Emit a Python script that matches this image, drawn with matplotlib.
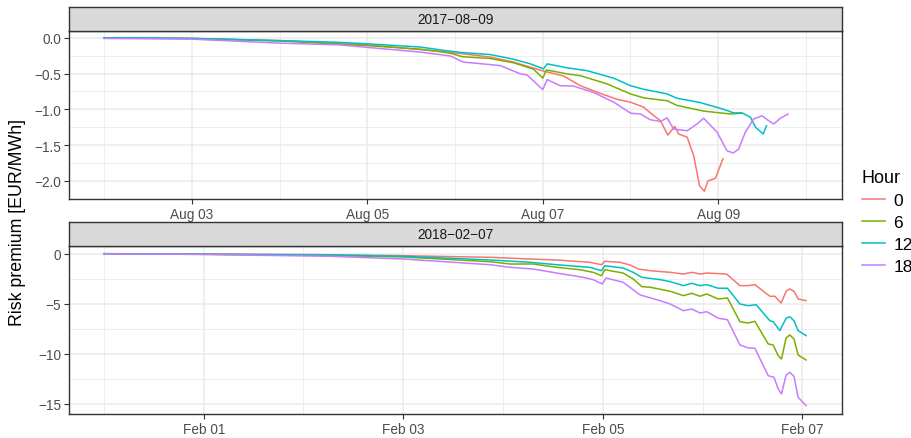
import numpy as np
import pandas as pd
import matplotlib
matplotlib.use("Agg")
import matplotlib.pyplot as plt
from matplotlib.lines import Line2D
import matplotlib.dates as mdates

plt.rcParams['font.family'] = ['Liberation Sans', 'DejaVu Sans']

hours = ['0', '6', '12', '18']
colors = ['#F8766D', '#7CAE00', '#00BFC4', '#C77CFF']

# Facet 2017-08-09 : time in hours after 2017-08-02 00:00
aug_start = '2017-08-02'
aug_t0 = [0, 24, 48, 72, 86.5, 97.4, 105.6, 112, 119.8, 125.7, 130.3, 134.8, 140.3, 144, 147.6, 149.9,
          152.2, 154.2, 156.1, 157.2, 159.5, 161.3, 162.9, 164.2, 165.2, 167.2, 169.3]
aug_v0 = [0, -0.01, -0.04, -0.10, -0.165, -0.22, -0.27, -0.34, -0.46, -0.535, -0.67, -0.76, -0.86, -0.90,
          -0.97, -1.07, -1.16, -1.36, -1.24, -1.345, -1.39, -1.65, -2.07, -2.145, -2.0, -1.965, -1.69]
aug_t6 = [0, 24, 48, 72, 86.5, 92, 95, 98, 105.6, 112, 117.5, 120, 121, 126.6, 130.3, 137.6, 144, 147.6,
          154, 156.7, 164, 171.3, 174.5]
aug_v6 = [0, -0.01, -0.045, -0.11, -0.16, -0.195, -0.22, -0.265, -0.29, -0.35, -0.44, -0.565, -0.45,
          -0.505, -0.53, -0.645, -0.785, -0.84, -0.88, -0.945, -1.025, -1.065, -1.055]
aug_t12 = [0, 24, 48, 64.6, 72, 86.5, 92, 97.4, 105.6, 112, 116.6, 120.2, 121.2, 126.6, 132.1, 139.4, 144,
           147.6, 154, 156.7, 163, 169.5, 172.2, 174.5, 176.8, 178.2, 180.3, 181.2]
aug_v12 = [0, -0.01, -0.04, -0.065, -0.085, -0.13, -0.17, -0.205, -0.235, -0.30, -0.365, -0.435, -0.365,
           -0.42, -0.46, -0.565, -0.67, -0.72, -0.785, -0.845, -0.905, -1.0, -1.05, -1.05, -1.11, -1.25,
           -1.345, -1.23]
aug_t18 = [0, 24, 48, 64.6, 72, 86.5, 94.7, 98.2, 105.6, 108.4, 113.9, 115.7, 120, 121.2, 124.8, 128.4,
           133.9, 139.4, 144.1, 146.7, 149.4, 152.2, 154, 155.8, 159.5, 162.2, 164, 167.7, 170.4, 172.1,
           173.6, 175.4, 177.7, 180, 181.4, 183.2, 185, 187.1]
aug_v18 = [-0.01, -0.02, -0.075, -0.1, -0.135, -0.2, -0.255, -0.34, -0.375, -0.39, -0.505, -0.52, -0.725,
           -0.585, -0.67, -0.675, -0.765, -0.90, -1.055, -1.065, -1.145, -1.17, -1.12, -1.275, -1.30,
           -1.205, -1.125, -1.32, -1.58, -1.61, -1.555, -1.32, -1.135, -1.09, -1.145, -1.205, -1.125, -1.065]

# Facet 2018-02-07 : time in hours after 2018-01-31 00:00
feb_start = '2018-01-31'
feb_t0 = [0, 24, 54.4, 72, 92.9, 102.5, 108.9, 116.9, 119.7, 120.5, 124.1, 126.6, 128.6, 131.4, 136.2,
          139.4, 141.4, 143.4, 145, 149.8, 153, 155, 156.6, 160.2, 161.4, 162.9, 164.2, 165, 166, 167, 168.9]
feb_v0 = [0, -0.03, -0.10, -0.20, -0.36, -0.53, -0.63, -0.86, -1.10, -0.76, -0.86, -1.13, -1.53, -1.70,
          -1.86, -2.03, -1.86, -2.03, -1.93, -2.03, -3.19, -3.19, -3.09, -4.25, -4.25, -4.92, -3.69, -3.52,
          -3.75, -4.52, -4.69]
feb_t6 = [0, 24, 54.4, 72, 92.9, 97.7, 103.3, 108.9, 114.5, 117.7, 119.7, 120.5, 124.9, 127.3, 129.4,
          131.4, 136.2, 139.4, 141.4, 143.4, 145, 147.8, 150, 153, 155, 156.6, 159.8, 161, 162.2, 163,
          164.1, 165, 166, 167, 168.9]
feb_v6 = [0, -0.06, -0.18, -0.33, -0.80, -1.03, -1.03, -1.36, -1.60, -1.86, -2.20, -1.60, -1.93, -2.52,
          -3.29, -3.35, -3.75, -4.19, -3.95, -4.25, -4.02, -4.52, -4.42, -6.79, -6.92, -6.75, -9.01, -9.11,
          -10.18, -10.51, -8.41, -8.11, -8.51, -10.11, -10.61]
feb_t12 = [0, 24, 54.4, 72, 92.9, 102.5, 108.9, 116.9, 119.7, 120.5, 124.9, 127.3, 129.4, 133.8, 136.2,
           139.4, 141.4, 143.4, 145, 147.8, 150, 153, 155, 156.9, 160.2, 161, 162.6, 164.1, 165, 166, 167,
           168.9]
feb_v12 = [0, -0.05, -0.13, -0.26, -0.63, -0.86, -1.10, -1.36, -1.70, -1.20, -1.43, -1.86, -2.36, -2.59,
           -2.79, -3.19, -2.95, -3.19, -3.09, -3.45, -3.45, -5.02, -5.19, -5.09, -6.69, -6.79, -7.68, -6.45,
           -6.29, -6.69, -7.68, -8.18]
feb_t18 = [0, 24, 54.4, 72, 92.9, 97.7, 103.3, 108.9, 115.3, 117.7, 119.9, 120.8, 124.9, 129, 133.8,
           136.2, 139.4, 141.4, 143.4, 145, 147.8, 150, 153, 155, 156.6, 159.8, 161.2, 162.2, 163, 164.1,
           165, 166, 167, 168.9]
feb_v18 = [0, -0.08, -0.26, -0.53, -1.10, -1.36, -1.53, -1.93, -2.36, -2.59, -3.02, -2.43, -2.85, -4.12,
           -4.69, -5.02, -5.69, -5.52, -5.92, -5.79, -6.45, -6.59, -9.11, -9.41, -9.44, -12.18, -12.34,
           -13.50, -14.00, -12.11, -11.84, -12.24, -14.33, -15.17]

aug_major = ['2017-08-03', '2017-08-05', '2017-08-07', '2017-08-09']
aug_minor = ['2017-08-02', '2017-08-04', '2017-08-06', '2017-08-08', '2017-08-10']
feb_major = ['2018-02-01', '2018-02-03', '2018-02-05', '2018-02-07']
feb_minor = ['2018-01-31', '2018-02-02', '2018-02-04', '2018-02-06']

GRID = '#EBEBEB'
DARK = '#333333'
TXT = '#4D4D4D'


def to_time(start, h):
    return pd.Timestamp(start) + pd.to_timedelta(np.array(h), unit='h')


def panel(fig, rect, strip_h, label, start, series, xl, yl, major, minor, yt, ym, ytl):
    ax = fig.add_axes(rect)
    for (t, v), c in zip(series, colors):
        ax.plot(to_time(start, t), v, color=c, lw=1.1, solid_joinstyle='round')
    ax.set_xlim(to_time(start, xl[0]), to_time(start, xl[1]))
    ax.set_ylim(yl)
    ax.set_xticks(pd.to_datetime(major))
    ax.set_xticks(pd.to_datetime(minor), minor=True)
    ax.xaxis.set_major_formatter(mdates.DateFormatter('%b %d'))
    ax.set_yticks(yt)
    ax.set_yticklabels(ytl)
    ax.set_yticks(ym, minor=True)
    ax.grid(which='major', color=GRID, lw=1.1)
    ax.grid(which='minor', color=GRID, lw=0.6)
    ax.set_axisbelow(True)
    ax.tick_params(which='major', length=3.5, width=0.8, color=DARK, labelcolor=TXT,
                   labelsize=9.8, pad=2)
    ax.tick_params(which='minor', length=0)
    for s in ax.spines.values():
        s.set_color(DARK)
        s.set_linewidth(1.0)

    # facet strip
    sax = fig.add_axes([rect[0], rect[1] + rect[3], rect[2], strip_h])
    sax.set_facecolor('#D9D9D9')
    sax.set_xticks([])
    sax.set_yticks([])
    for s in sax.spines.values():
        s.set_color(DARK)
        s.set_linewidth(1.0)
    sax.text(0.5, 0.5, label, ha='center', va='center', fontsize=9.8, color='#1A1A1A',
             transform=sax.transAxes)
    return ax


fig = plt.figure(figsize=(9.12, 4.39), dpi=100)

panel(fig, [0.0757, 0.5444, 0.8473, 0.3827], 0.0547, '2017\u221208\u221209', aug_start,
      [(aug_t0, aug_v0), (aug_t6, aug_v6), (aug_t12, aug_v12), (aug_t18, aug_v18)],
      (-9.6, 201.8), (-2.253, 0.094), aug_major, aug_minor,
      [0.0, -0.5, -1.0, -1.5, -2.0], [-0.25, -0.75, -1.25, -1.75, -2.25],
      ['0.0', '\u22120.5', '\u22121.0', '\u22121.5', '\u22122.0'])

panel(fig, [0.0757, 0.0547, 0.8473, 0.3834], 0.0533, '2018\u221202\u221207', feb_start,
      [(feb_t0, feb_v0), (feb_t6, feb_v6), (feb_t12, feb_v12), (feb_t18, feb_v18)],
      (-8.4, 177.5), (-16.0, 0.8), feb_major, feb_minor,
      [0, -5, -10, -15], [-2.5, -7.5, -12.5],
      ['0', '\u22125', '\u221210', '\u221215'])

fig.text(18 / 912, 1 - 222 / 439, 'Risk premium [EUR/MWh]', rotation=90, ha='center', va='center',
         fontsize=12.8, color='black')

handles = [Line2D([], [], color=c, lw=1.1) for c in colors]
fig.legend(handles, hours, title='Hour', loc='upper left', bbox_to_anchor=(862 / 912, 1 - 170 / 439),
           frameon=False, fontsize=12.5, title_fontsize=13, handlelength=1.3, handletextpad=0.5,
           labelspacing=0.4, borderpad=0, borderaxespad=0, alignment='left')

fig.savefig('out.png', dpi=100)
